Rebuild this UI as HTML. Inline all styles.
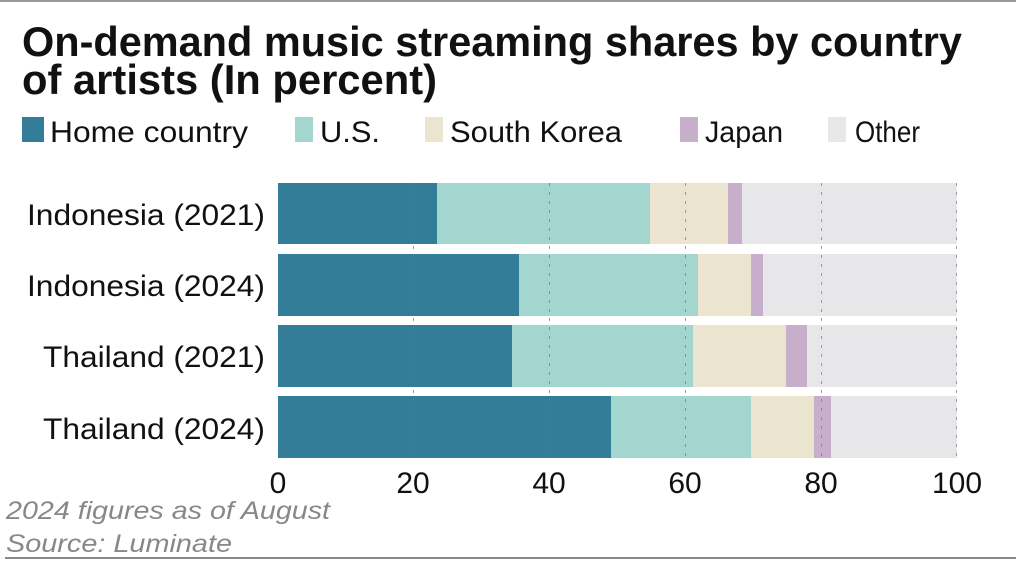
<!DOCTYPE html>
<html><head><meta charset="utf-8"><style>html,body{margin:0;padding:0;background:#fff;}svg{display:block}</style></head>
<body>
<svg width="1024" height="571" viewBox="0 0 1024 571" xmlns="http://www.w3.org/2000/svg" font-family="Liberation Sans, Arial, sans-serif">
<line x1="0" y1="1" x2="1016" y2="1" stroke="#999" stroke-width="2"/>
<text x="22" y="56" font-size="42" font-weight="bold" fill="#111" textLength="940" lengthAdjust="spacingAndGlyphs">On-demand music streaming shares by country</text>
<text x="22" y="94" font-size="42" font-weight="bold" fill="#111" textLength="415" lengthAdjust="spacingAndGlyphs">of artists (In percent)</text>
<g font-size="30" fill="#111">
<rect x="22" y="117" width="22" height="25" fill="#337d99"/>
<text x="50" y="142" textLength="198" lengthAdjust="spacingAndGlyphs">Home country</text>
<rect x="295" y="117" width="18" height="25" fill="#a3d6ce"/>
<text x="320" y="142" textLength="60" lengthAdjust="spacingAndGlyphs">U.S.</text>
<rect x="425" y="117" width="18" height="25" fill="#ebe4cf"/>
<text x="450" y="142" textLength="172" lengthAdjust="spacingAndGlyphs">South Korea</text>
<rect x="680" y="117" width="18" height="25" fill="#c7afcc"/>
<text x="705" y="142" textLength="78" lengthAdjust="spacingAndGlyphs">Japan</text>
<rect x="828" y="117" width="18" height="25" fill="#e7e7ea"/>
<text x="855" y="142" textLength="65" lengthAdjust="spacingAndGlyphs">Other</text>
</g>
<g>
<rect x="278" y="183" width="679" height="61" fill="#e7e7ea"/>
<rect x="278" y="183" width="464" height="61" fill="#c7afcc"/>
<rect x="278" y="183" width="450" height="61" fill="#ebe4cf"/>
<rect x="278" y="183" width="372" height="61" fill="#a3d6ce"/>
<rect x="278" y="183" width="159" height="61" fill="#337d99"/>

<rect x="278" y="254" width="679" height="62" fill="#e7e7ea"/>
<rect x="278" y="254" width="485" height="62" fill="#c7afcc"/>
<rect x="278" y="254" width="473" height="62" fill="#ebe4cf"/>
<rect x="278" y="254" width="420" height="62" fill="#a3d6ce"/>
<rect x="278" y="254" width="241" height="62" fill="#337d99"/>

<rect x="278" y="325" width="679" height="62" fill="#e7e7ea"/>
<rect x="278" y="325" width="529" height="62" fill="#c7afcc"/>
<rect x="278" y="325" width="508" height="62" fill="#ebe4cf"/>
<rect x="278" y="325" width="415" height="62" fill="#a3d6ce"/>
<rect x="278" y="325" width="234" height="62" fill="#337d99"/>

<rect x="278" y="396" width="679" height="62" fill="#e7e7ea"/>
<rect x="278" y="396" width="553" height="62" fill="#c7afcc"/>
<rect x="278" y="396" width="536" height="62" fill="#ebe4cf"/>
<rect x="278" y="396" width="473" height="62" fill="#a3d6ce"/>
<rect x="278" y="396" width="333" height="62" fill="#337d99"/>
</g>
<g stroke="#777" stroke-width="1" stroke-dasharray="3,6" opacity="0.7">
<line x1="413.5" y1="183" x2="413.5" y2="458"/>
<line x1="549.5" y1="183" x2="549.5" y2="458"/>
<line x1="685.5" y1="183" x2="685.5" y2="458"/>
<line x1="821.5" y1="183" x2="821.5" y2="458"/>
<line x1="956.5" y1="183" x2="956.5" y2="458"/>
</g>
<g font-size="30" fill="#111" text-anchor="end">
<text x="265" y="225" textLength="238" lengthAdjust="spacingAndGlyphs">Indonesia (2021)</text>
<text x="265" y="296" textLength="238" lengthAdjust="spacingAndGlyphs">Indonesia (2024)</text>
<text x="265" y="367" textLength="222" lengthAdjust="spacingAndGlyphs">Thailand (2021)</text>
<text x="265" y="439" textLength="222" lengthAdjust="spacingAndGlyphs">Thailand (2024)</text>
</g>
<g font-size="30" fill="#111" text-anchor="middle">
<text x="278" y="493">0</text>
<text x="413" y="493">20</text>
<text x="549" y="493">40</text>
<text x="685" y="493">60</text>
<text x="821" y="493">80</text>
<text x="957" y="493">100</text>
</g>
<g font-size="25" fill="#888" font-style="italic">
<text x="6" y="519" textLength="324" lengthAdjust="spacingAndGlyphs">2024 figures as of August</text>
<text x="6" y="552" textLength="226" lengthAdjust="spacingAndGlyphs">Source: Luminate</text>
</g>
<line x1="5" y1="558" x2="1016" y2="558" stroke="#888" stroke-width="2"/>
</svg>
</body></html>
